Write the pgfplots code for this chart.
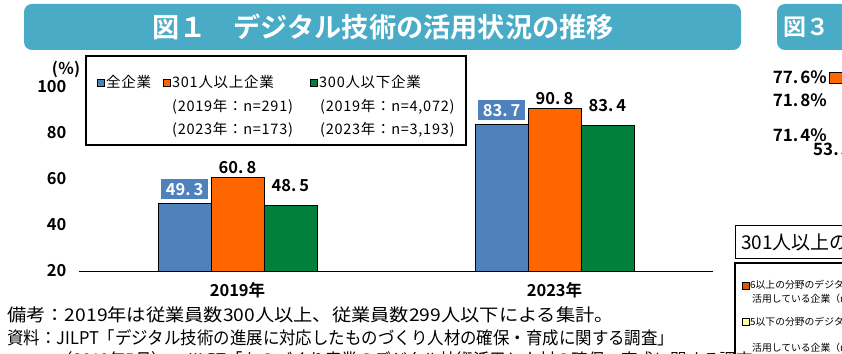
\documentclass[border=0pt]{standalone}
\usepackage{pgfplots}
\pgfplotsset{compat=1.18}
\usepackage{fontspec}
\setmainfont{Noto Sans CJK JP}[BoldFont={Noto Sans CJK JP Bold}]
\newfontfamily\legfont{Noto Sans CJK JP}[LetterSpace=5]
\newfontfamily\wideA{Noto Sans CJK JP}[FakeStretch=1.1]
\newfontfamily\narrowA{Noto Sans CJK JP}[FakeStretch=0.94]
\definecolor{banner}{HTML}{4AABC7}
\definecolor{barblue}{HTML}{4F81BD}
\definecolor{barorange}{HTML}{FF6600}
\definecolor{bargreen}{HTML}{00803A}
\definecolor{lyellow}{HTML}{FFFF99}
\newcommand{\fs}[1]{\fontsize{#1}{#1}\selectfont}
\begin{document}
\begin{tikzpicture}[x=1pt,y=1pt]
\useasboundingbox (0,0) rectangle (842,353);
\clip (0,0) rectangle (842,353);
\fill[white] (0,0) rectangle (842,353);
% title banners
\fill[banner, rounded corners=8pt] (24,303) rectangle (741,349);
\node[text=white, font=\bfseries\fs{27.2}] at (383,326) {図１　デジタル技術の活用状況の推移};
\fill[banner, rounded corners=8pt] (777,303) rectangle (900,349);
\node[text=white, font=\bfseries\fs{23}, anchor=west, inner sep=0] at (783,326) {図３};

\begin{axis}[
  at={(79pt,82pt)}, anchor=south west,
  scale only axis, width=634pt, height=184pt,
  xmin=-0.5, xmax=1.5, ymin=20, ymax=100,
  axis x line=bottom, axis y line=left,
  y axis line style={draw=none},
  x axis line style={-, line width=0.8pt, black},
  major tick length=0pt,
  ytick={20,40,60,80,100},
  xtick={0,1}, xticklabels={2019年,2023年},
  /pgf/number format/assume math mode=true,
  ticklabel style={font=\bfseries\fs{16.5}},
  yticklabel style={xshift=-9pt},
  xticklabel style={yshift=-8pt},
  ybar=0pt, bar width=0.167,
  point meta=explicit symbolic,
  nodes near coords,
]
\addplot[fill=barblue, draw=black, line width=0.7pt, bar shift=-0.167,
  nodes near coords style={fill=barblue, text=white, font=\bfseries\fs{16.5}, anchor=south, yshift=4pt, minimum width=47pt, minimum height=20pt, inner sep=0pt}]
  coordinates {(0,49.3) [49.\kern3pt 3] (1,83.7) [83.\kern3pt 7]};
\addplot[fill=barorange, draw=black, line width=0.7pt, bar shift=0,
  nodes near coords style={text=black, font=\bfseries\fs{16.5}, anchor=south, yshift=3pt, inner sep=0pt}]
  coordinates {(0,60.8) [60.\kern3pt 8] (1,90.8) [90.\kern3pt 8]};
\addplot[fill=bargreen, draw=black, line width=0.7pt, bar shift=0.167,
  nodes near coords style={text=black, font=\bfseries\fs{16.5}, anchor=south, yshift=13pt, inner sep=0pt}]
  coordinates {(0,48.5) [48.\kern3pt 5] (1,83.4) [83.\kern3pt 4]};
\end{axis}

% (%) label
\node[font=\bfseries\fs{16}, anchor=center, inner sep=0] at (66,284) {(％)};
% legend
\draw[line width=1.5pt] (86,297) rectangle (466,208);
\filldraw[fill=barblue, draw=black, line width=0.5pt] (97,267) rectangle (104,274);
\node[anchor=west, inner sep=0, font=\legfont\fs{14.5}] at (106,271) {全企業};
\filldraw[fill=barorange, draw=black, line width=0.5pt] (163,267) rectangle (170,274);
\node[anchor=west, inner sep=0, font=\legfont\fs{14.5}] at (172,271) {301人以上企業};
\filldraw[fill=bargreen, draw=black, line width=0.5pt] (310,267) rectangle (317,274);
\node[anchor=west, inner sep=0, font=\legfont\fs{14.5}] at (319,271) {300人以下企業};
\node[anchor=west, inner sep=0, font=\legfont\fs{14.5}] at (172,246) {(2019年：n=291)};
\node[anchor=west, inner sep=0, font=\legfont\fs{14.5}] at (320,246) {(2019年：n=4,072)};
\node[anchor=west, inner sep=0, font=\legfont\fs{14.5}] at (172,223) {(2023年：n=173)};
\node[anchor=west, inner sep=0, font=\legfont\fs{14.5}] at (320,223) {(2023年：n=3,193)};

% notes
\node[anchor=west, inner sep=0, font=\wideA\fs{17.5}] at (7,38) {備考：2019年は従業員数300人以上、従業員数299人以下による集計。};
\node[anchor=west, inner sep=0, font=\narrowA\fs{17.5}] at (7,15) {資料：JILPT「デジタル技術の進展に対応したものづくり人材の確保・育成に関する調査」};
\node[anchor=west, inner sep=0, font=\narrowA\fs{17.5}] at (7,-7) {　　　（2019年5月）、JILPT「ものづくり産業のデジタル技術活用と人材の確保・育成に関する調査」};

% right-hand fragment of figure 3
\node[anchor=east, inner sep=0, font=\bfseries\fs{17}] at (827,276) {77.\kern2pt 6\%};
\filldraw[fill=barorange, draw=black, line width=0.6pt] (829,270) rectangle (846,281);
\node[anchor=east, inner sep=0, font=\bfseries\fs{17}] at (827,253) {71.\kern2pt 8\%};
\node[anchor=east, inner sep=0, font=\bfseries\fs{17}] at (827,218) {71.\kern2pt 4\%};
\node[anchor=west, inner sep=0, font=\bfseries\fs{17}] at (813,204) {53.\kern2pt 5\%};
\draw[line width=0.8pt] (735,95) rectangle (900,128);
\node[anchor=west, inner sep=0, font=\fs{19}] at (741,111) {301人以上の企業};
\draw[line width=1.5pt] (735,-10) rectangle (900,90);
\filldraw[fill=barorange!85!black, draw=black, line width=0.4pt] (742,64) rectangle (749,71);
\node[anchor=west, inner sep=0, font=\fs{9.8}] at (750,68) {6以上の分野のデジタル技術を};
\node[anchor=west, inner sep=0, font=\fs{9.8}] at (752,54) {活用している企業（n=173）};
\filldraw[fill=lyellow, draw=black, line width=0.4pt] (742,28) rectangle (749,35);
\node[anchor=west, inner sep=0, font=\fs{9.8}] at (750,31) {5以下の分野のデジタル技術を};
\node[anchor=west, inner sep=0, font=\fs{9.8}] at (752,5) {活用している企業（n=173）};
\end{tikzpicture}
\end{document}
